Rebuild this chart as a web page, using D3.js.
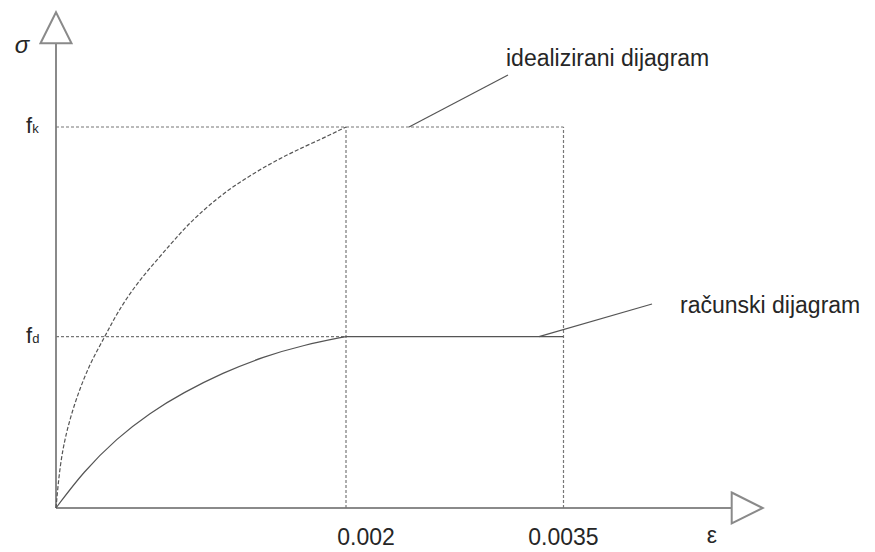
<!DOCTYPE html>
<html>
<head>
<meta charset="utf-8">
<script src="https://cdn.jsdelivr.net/npm/d3@7"></script>
<style>
  body { margin: 0; background: #fff; }
  text { font-family: "Liberation Sans", Arial, sans-serif; fill: #262626; }
</style>
</head>
<body>
<div id="chart"></div>
<script>
// values (strain eps, stress as a fraction of fk)
var fk = 1.0;
var fd = 0.45;
var epsTicks = [0.002, 0.0035];
var epsLabels = ["0.002", "0.0035"];

// idealizirani dijagram (dashed curve)
var idealEps = [0, 0.000028, 0.000074, 0.000143, 0.000234, 0.000338, 0.000419, 0.000557, 0.000717, 0.000855, 0.000959, 0.00115, 0.00138, 0.00161, 0.00184, 0.002];
var idealSig = [0, 0.117, 0.205, 0.292, 0.38, 0.45, 0.511, 0.59, 0.66, 0.721, 0.762, 0.826, 0.883, 0.931, 0.97, 1.0];

// računski dijagram: curved part, then the plateau at fd
var racEps = [0, 0.000188, 0.000419, 0.000648, 0.000878, 0.00115, 0.00143, 0.00171, 0.002];
var racSig = [0, 0.095, 0.183, 0.25, 0.303, 0.355, 0.397, 0.428, 0.45];
var plateauEps = [0.002, 0.0035];
var plateauSig = [0.45, 0.45];

var margin = { top: 127, left: 56, bottom: 44 };
var width = 875, height = 552;

var svg = d3.select("#chart").append("svg")
  .attr("width", width)
  .attr("height", height);

var xScale = d3.scaleLinear().domain([0, 0.002]).range([margin.left, 346]);
var yScale = d3.scaleLinear().domain([0, fk]).range([height - margin.bottom, margin.top]);

var xEnd = 0.00466;   // where the x axis meets its arrow
var yEnd = 1.22;      // where the y axis meets its arrow
var arrow = 31;

var axisCol = "#8a8a8a", lineCol = "#555";

// axes lines
svg.append("line")
  .attr("x1", xScale(0)).attr("y1", yScale(0))
  .attr("x2", xScale(xEnd)).attr("y2", yScale(0))
  .attr("stroke", axisCol).attr("stroke-width", 2);
svg.append("line")
  .attr("x1", xScale(0)).attr("y1", yScale(0))
  .attr("x2", xScale(0)).attr("y2", yScale(yEnd))
  .attr("stroke", axisCol).attr("stroke-width", 2);

// arrow heads (open triangles)
var ax = xScale(xEnd), ay = yScale(0);
svg.append("path")
  .attr("d", "M" + ax + "," + (ay - arrow / 2) + "L" + (ax + arrow) + "," + ay + "L" + ax + "," + (ay + arrow / 2) + "Z")
  .attr("fill", "#fff").attr("stroke", axisCol).attr("stroke-width", 2);
var bx = xScale(0), by = yScale(yEnd);
svg.append("path")
  .attr("d", "M" + (bx - arrow / 2) + "," + by + "L" + bx + "," + (by - arrow) + "L" + (bx + arrow / 2) + "," + by + "Z")
  .attr("fill", "#fff").attr("stroke", axisCol).attr("stroke-width", 2);

// dashed guide lines
var guides = svg.append("g")
  .attr("stroke", "#777").attr("stroke-width", 1.2)
  .attr("stroke-dasharray", "3,2").attr("fill", "none");
guides.append("line")
  .attr("x1", xScale(0)).attr("y1", yScale(fk))
  .attr("x2", xScale(epsTicks[1])).attr("y2", yScale(fk));
guides.append("line")
  .attr("x1", xScale(0)).attr("y1", yScale(fd))
  .attr("x2", xScale(epsTicks[0])).attr("y2", yScale(fd));
epsTicks.forEach(function(e) {
  guides.append("line")
    .attr("x1", xScale(e)).attr("y1", yScale(0))
    .attr("x2", xScale(e)).attr("y2", yScale(fk));
});

var line = d3.line()
  .x(function(d) { return xScale(d[0]); })
  .y(function(d) { return yScale(d[1]); })
  .curve(d3.curveBasis);

svg.append("path")
  .datum(d3.zip(idealEps, idealSig))
  .attr("d", line)
  .attr("fill", "none").attr("stroke", lineCol).attr("stroke-width", 1.2)
  .attr("stroke-dasharray", "4,2");

svg.append("path")
  .datum(d3.zip(racEps, racSig))
  .attr("d", line)
  .attr("fill", "none").attr("stroke", lineCol).attr("stroke-width", 1.2);

svg.append("path")
  .datum(d3.zip(plateauEps, plateauSig))
  .attr("d", line.curve(d3.curveLinear))
  .attr("fill", "none").attr("stroke", lineCol).attr("stroke-width", 1.2);

// x tick labels
var labelShift = [20, 0];
svg.selectAll(".xlab")
  .data(epsTicks)
  .enter().append("text")
  .attr("class", "xlab")
  .attr("x", function(d, i) { return xScale(d) + labelShift[i]; })
  .attr("y", 545)
  .attr("text-anchor", "middle")
  .attr("font-size", 23)
  .text(function(d, i) { return epsLabels[i]; });

// y labels fk, fd
[["k", fk], ["d", fd]].forEach(function(p) {
  var t = svg.append("text")
    .attr("x", 26).attr("y", yScale(p[1]) + 6)
    .attr("font-size", 22);
  t.append("tspan").text("f");
  t.append("tspan").attr("font-size", 13).text(p[0]);
});

// axis symbols
svg.append("text")
  .attr("x", 22).attr("y", 53)
  .attr("text-anchor", "middle")
  .attr("font-family", "DejaVu Serif")
  .attr("font-style", "italic")
  .attr("font-size", 24)
  .text("σ");
svg.append("text")
  .attr("x", 712).attr("y", 543)
  .attr("text-anchor", "middle")
  .attr("font-family", "DejaVu Serif")
  .attr("font-size", 23)
  .text("ε");

// annotations
svg.append("line")
  .attr("x1", 409).attr("y1", yScale(fk))
  .attr("x2", 508).attr("y2", 75)
  .attr("stroke", lineCol).attr("stroke-width", 1.2);
svg.append("text")
  .attr("x", 506).attr("y", 66)
  .attr("font-size", 23)
  .text("idealizirani dijagram");

svg.append("line")
  .attr("x1", 539).attr("y1", yScale(fd))
  .attr("x2", 652).attr("y2", 304)
  .attr("stroke", lineCol).attr("stroke-width", 1.2);
svg.append("text")
  .attr("x", 680).attr("y", 313)
  .attr("font-size", 23)
  .text("računski dijagram");
</script>
</body>
</html>
